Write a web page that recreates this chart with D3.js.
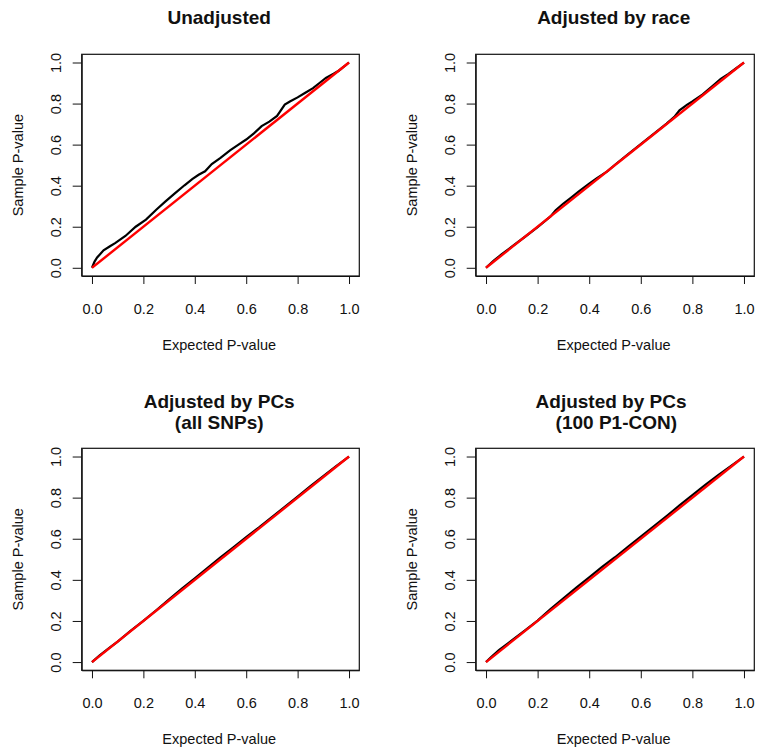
<!DOCTYPE html>
<html>
<head>
<meta charset="utf-8">
<script src="https://cdn.jsdelivr.net/npm/d3@7"></script>
<style>
  body { margin: 0; background: #fff; }
  text { font-family: "Liberation Sans", Arial, sans-serif; fill: #111; }
</style>
</head>
<body>
<div id="figure"></div>
<script>
// Titres des panneaux (une entrée par ligne de titre)
const titres = [
    ["Unadjusted"],
    ["Adjusted by race"],
    ["Adjusted by PCs", "(all SNPs)"],
    ["Adjusted by PCs ", " (100 P1-CON)"]
];

const graduations = [0, 0.2, 0.4, 0.6, 0.8, 1.0];

// Courbes noires : p-valeurs observées (ordonnée) contre attendues (abscisse)
const attenduNonAjuste = [0, 0.01, 0.02, 0.045, 0.07, 0.09, 0.13, 0.17, 0.21, 0.25, 0.285, 0.32, 0.36, 0.39, 0.415, 0.44, 0.466, 0.5, 0.537, 0.57, 0.6, 0.63, 0.66, 0.69, 0.72, 0.75, 0.77, 0.8, 0.83, 0.86, 0.89, 0.91, 0.94, 0.96, 0.98, 1];
const observeNonAjuste = [0, 0.03, 0.05, 0.085, 0.105, 0.12, 0.155, 0.2, 0.235, 0.283, 0.322, 0.36, 0.402, 0.432, 0.453, 0.47, 0.505, 0.535, 0.572, 0.6, 0.625, 0.655, 0.69, 0.712, 0.74, 0.795, 0.81, 0.83, 0.853, 0.875, 0.905, 0.925, 0.945, 0.96, 0.98, 1];

const attenduRace = [0, 0.03, 0.06, 0.1, 0.15, 0.2, 0.25, 0.27, 0.3, 0.33, 0.36, 0.4, 0.43, 0.47, 0.5, 0.55, 0.6, 0.65, 0.7, 0.73, 0.75, 0.78, 0.8, 0.84, 0.88, 0.91, 0.94, 0.97, 1];
const observeRace = [0, 0.035, 0.065, 0.103, 0.15, 0.198, 0.25, 0.28, 0.313, 0.342, 0.372, 0.41, 0.437, 0.47, 0.502, 0.552, 0.602, 0.652, 0.702, 0.735, 0.767, 0.795, 0.81, 0.845, 0.888, 0.92, 0.945, 0.972, 1];

const attenduPCsTous = [0, 0.03, 0.07, 0.1, 0.15, 0.2, 0.25, 0.3, 0.35, 0.4, 0.45, 0.5, 0.55, 0.6, 0.65, 0.7, 0.75, 0.8, 0.85, 0.9, 0.95, 1];
const observePCsTous = [0, 0.033, 0.072, 0.1, 0.152, 0.2, 0.252, 0.305, 0.357, 0.407, 0.458, 0.51, 0.558, 0.608, 0.655, 0.705, 0.755, 0.805, 0.856, 0.905, 0.953, 1];

const attenduPCs100 = [0, 0.02, 0.05, 0.1, 0.15, 0.2, 0.25, 0.3, 0.35, 0.4, 0.45, 0.5, 0.55, 0.6, 0.65, 0.7, 0.75, 0.8, 0.85, 0.9, 0.95, 1];
const observePCs100 = [0, 0.025, 0.058, 0.105, 0.153, 0.202, 0.258, 0.31, 0.362, 0.412, 0.463, 0.51, 0.56, 0.61, 0.66, 0.71, 0.762, 0.812, 0.862, 0.91, 0.955, 1];

// Diagonale rouge y = x
const diagonaleX = [0, 1];
const diagonaleY = [0, 1];

const series = [
    [attenduNonAjuste, observeNonAjuste],
    [attenduRace, observeRace],
    [attenduPCsTous, observePCsTous],
    [attenduPCs100, observePCs100]
];

// Boîtes des panneaux (gauche, haut, droite, bas) en pixels
const boites = [
    [81.7, 54.3, 359.3, 276],
    [475.7, 54.3, 754.3, 276],
    [81.7, 448.3, 359.3, 670.3],
    [475.7, 448.3, 754.3, 670.3]
];

const svg = d3.select("#figure").append("svg")
    .attr("width", 769)
    .attr("height", 754);

svg.append("rect")
    .attr("width", "100%")
    .attr("height", "100%")
    .attr("fill", "white");

function dessinerPanneau(i) {
    let [gauche, haut, droite, bas] = boites[i];
    let [attendu, observe] = series[i];
    let milieuX = (gauche + droite) / 2 - 1.3;

    // Domaine élargi de 4 % comme R
    let x = d3.scaleLinear().domain([-0.04, 1.04]).range([gauche, droite]);
    let y = d3.scaleLinear().domain([-0.04, 1.04]).range([bas, haut]);

    let g = svg.append("g").attr("class", "panneau");

    // Axe des abscisses
    let axeX = g.append("g")
        .attr("transform", "translate(0," + bas + ")")
        .call(d3.axisBottom(x).tickValues(graduations).tickFormat(d3.format(".1f")).tickSize(8).tickSizeOuter(0));
    axeX.selectAll("text").attr("y", 37.5).attr("dy", 0).style("font-size", "14.5px");

    // Axe des ordonnées (étiquettes verticales)
    let axeY = g.append("g")
        .attr("transform", "translate(" + gauche + ",0)")
        .call(d3.axisLeft(y).tickValues(graduations).tickFormat(d3.format(".1f")).tickSize(9).tickSizeOuter(0));
    axeY.selectAll("text")
        .attr("x", 0).attr("y", -20.5).attr("dy", 0)
        .attr("transform", "rotate(-90)")
        .attr("text-anchor", "middle")
        .style("font-size", "14.5px");
    g.selectAll(".domain, .tick line").attr("stroke", "#111");

    // Courbe noire puis diagonale rouge
    let ligne = d3.line().x(d => x(d[0])).y(d => y(d[1]));
    g.append("path")
        .attr("d", ligne(d3.zip(attendu, observe)))
        .attr("fill", "none")
        .attr("stroke", "black")
        .attr("stroke-width", 2.2);
    g.append("path")
        .attr("d", ligne(d3.zip(diagonaleX, diagonaleY)))
        .attr("fill", "none")
        .attr("stroke", "#ff0000")
        .attr("stroke-width", 2.4);

    // Cadre
    g.append("rect")
        .attr("x", gauche).attr("y", haut)
        .attr("width", droite - gauche).attr("height", bas - haut)
        .attr("fill", "none").attr("stroke", "#111").attr("stroke-width", 1.2);

    // Titre
    let lignesTitre = titres[i];
    let baseTitre = lignesTitre.length == 1 ? haut - 30.5 : haut - 40.8;
    lignesTitre.forEach((t, k) => {
        g.append("text")
            .attr("x", milieuX).attr("y", baseTitre + k * 21.6)
            .attr("text-anchor", "middle")
            .style("font-size", "19px").style("font-weight", "bold")
            .style("white-space", "pre")
            .text(t);
    });

    // Libellés des axes
    g.append("text")
        .attr("x", milieuX).attr("y", bas + 74)
        .attr("text-anchor", "middle")
        .style("font-size", "14.5px")
        .text("Expected P-value");
    g.append("text")
        .attr("transform", "translate(" + (gauche - 58.4) + "," + ((haut + bas) / 2) + ") rotate(-90)")
        .attr("text-anchor", "middle")
        .style("font-size", "14.5px")
        .text("Sample P-value");
}

for (let i = 0; i < 4; i++) dessinerPanneau(i);
</script>
</body>
</html>
